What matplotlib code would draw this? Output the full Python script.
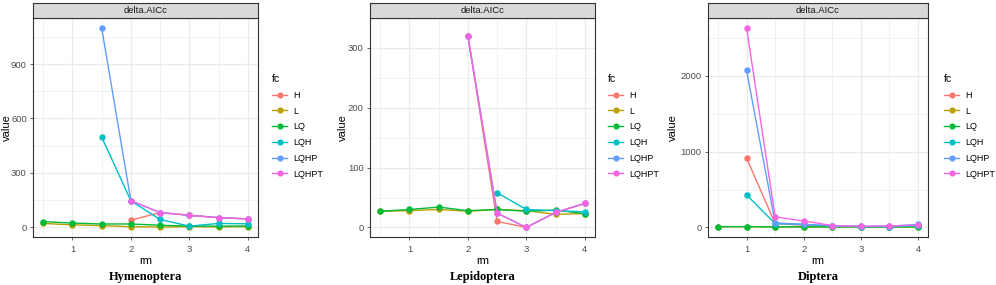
import numpy as np
import matplotlib
matplotlib.use("Agg")
import matplotlib.pyplot as plt
from matplotlib.lines import Line2D

plt.rcParams["font.family"] = ["Liberation Sans", "DejaVu Sans"]

nan = np.nan

# rm values shared by all three panels
rm = [0.5, 1, 1.5, 2, 2.5, 3, 3.5, 4]
fc_names = ["H", "L", "LQ", "LQH", "LQHP", "LQHPT"]
fc_colors = ["#F8766D", "#B79F00", "#00BA38", "#00BFC4", "#619CFF", "#F564E3"]

# Hymenoptera delta.AICc
hym_H = [nan, nan, nan, 38, 80, 65, 52, 45]
hym_L = [20, 12, 8, 2, 0, 2, 1, 2]
hym_LQ = [30, 22, 17, 17, 10, 5, 5, 6]
hym_LQH = [nan, nan, 497, 145, 42, 5, 20, 18]
hym_LQHP = [nan, nan, 1100, 145, 80, 65, 52, 45]
hym_LQHPT = [nan, nan, nan, 145, 80, 65, 52, 45]

# Lepidoptera delta.AICc
lep_H = [nan, nan, nan, 320, 10, 0, 25, 40]
lep_L = [27, 28, 30, 27, 30, 28, 22, 23]
lep_LQ = [27, 30, 34, 28, 30, 27, 29, 23]
lep_LQH = [nan, nan, nan, nan, 58, 30, 28, 26]
lep_LQHP = [nan, nan, nan, 320, 24, 0, 25, 40]
lep_LQHPT = [nan, nan, nan, 320, 24, 0, 25, 40]

# Diptera delta.AICc
dip_H = [nan, 915, 50, 30, 15, 10, 10, 15]
dip_L = [10, 10, 8, 6, 5, 5, 5, 5]
dip_LQ = [10, 10, 8, 8, 8, 8, 8, 8]
dip_LQH = [nan, 430, 50, 40, 20, 10, 10, 20]
dip_LQHP = [nan, 2070, 60, 40, 20, 15, 15, 40]
dip_LQHPT = [nan, 2630, 140, 85, 25, 15, 20, 30]

panels = [
    ("Hymenoptera", [hym_H, hym_L, hym_LQ, hym_LQH, hym_LQHP, hym_LQHPT], [0, 300, 600, 900]),
    ("Lepidoptera", [lep_H, lep_L, lep_LQ, lep_LQH, lep_LQHP, lep_LQHPT], [0, 100, 200, 300]),
    ("Diptera", [dip_H, dip_L, dip_LQ, dip_LQH, dip_LQHP, dip_LQHPT], [0, 1000, 2000]),
]

W, H = 996, 285
fig = plt.figure(figsize=(W / 100, H / 100), dpi=100)

# pixel boxes: (left, right) of each panel, legend x, y-label x
lefts = [33, 370, 708]
rights = [258, 595, 928]
legend_x = [272, 608, 944]
ylab_x = [12, 348, 678]
top_px, bot_px, strip_top = 18, 237, 3

grid_col = "#EBEBEB"
border_col = "#333333"
tick_col = "#4D4D4D"

for i, (name, series, yticks) in enumerate(panels):
    l, r = lefts[i], rights[i]
    ax = fig.add_axes([l / W, (H - bot_px) / H, (r - l) / W, (bot_px - top_px) / H])

    for vals, c in zip(series, fc_colors):
        ax.plot(rm, vals, color=c, lw=1.0, marker="o", ms=3.6, mec=c)

    ymax = np.nanmax([np.nanmax(v) for v in series])
    ymin = np.nanmin([np.nanmin(v) for v in series])
    pad = (ymax - ymin) * 0.05
    ax.set_ylim(ymin - pad, ymax + pad)
    ax.set_xlim(0.5 - 0.175, 4 + 0.175)

    ax.set_xticks([1, 2, 3, 4])
    ax.set_xticks([0.5, 1.5, 2.5, 3.5], minor=True)
    ax.set_yticks(yticks)
    ystep = yticks[1] - yticks[0]
    ax.set_yticks([t + ystep / 2 for t in yticks], minor=True)
    ax.grid(which="major", color=grid_col, lw=0.9)
    ax.grid(which="minor", color=grid_col, lw=0.5)
    ax.set_axisbelow(True)
    ax.tick_params(which="major", length=2.5, width=0.6, color=tick_col,
                   labelcolor=tick_col, labelsize=6.8, pad=2)
    ax.tick_params(axis="x", which="major", pad=3.5)
    ax.tick_params(which="minor", length=0)
    for s in ax.spines.values():
        s.set_color(border_col)
        s.set_linewidth(0.8)
    ax.set_xlabel("rm", fontsize=8, labelpad=1)
    ax.set_ylabel("value", fontsize=8)
    ax.yaxis.set_label_coords((ylab_x[i] - l) / (r - l), 0.5)

    # facet strip
    sax = fig.add_axes([l / W, (H - top_px) / H, (r - l) / W, (top_px - strip_top) / H])
    sax.set_facecolor("#D9D9D9")
    sax.set_xticks([])
    sax.set_yticks([])
    for s in sax.spines.values():
        s.set_color(border_col)
        s.set_linewidth(0.8)
    sax.text(0.5, 0.5, "delta.AICc", ha="center", va="center", fontsize=6.8,
             color="#1A1A1A", transform=sax.transAxes)

    # legend
    handles = [Line2D([], [], color=c, lw=1.0, marker="o", ms=3.4) for c in fc_colors]
    ax.legend(handles, fc_names, title="fc", loc="upper left",
              bbox_to_anchor=(legend_x[i] / W, (H - 74) / H),
              bbox_transform=fig.transFigure, frameon=False, fontsize=6.5,
              title_fontsize=7.5, handlelength=1.7, handletextpad=0.7,
              labelspacing=0.75, borderpad=0, borderaxespad=0, alignment="left")

    # panel caption
    fig.text((l + r) / 2 / W, 1 - 277 / H, name, ha="center", va="center",
             fontsize=9, fontweight="bold", family="Liberation Serif")

fig.savefig("out.png", dpi=100)
